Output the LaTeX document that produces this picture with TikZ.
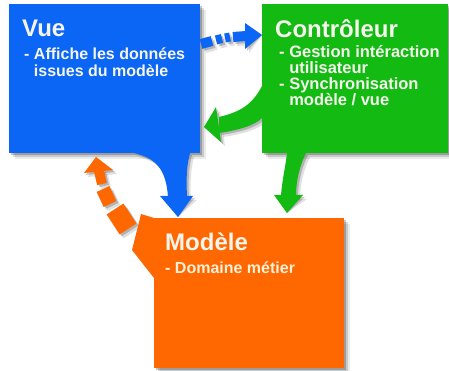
\documentclass[tikz,border=0pt]{standalone}
\usepackage{fontspec}
\setmainfont{Liberation Sans}
\usetikzlibrary{shadows}
\definecolor{vueblue}{RGB}{12,102,245}
\definecolor{ctrlgreen}{RGB}{18,186,18}
\definecolor{modorange}{RGB}{255,104,0}
\definecolor{txtw}{RGB}{245,245,238}
\definecolor{txtc}{RGB}{255,240,215}
\tikzset{
  softshadow/.style={
    drop shadow={shadow xshift=2pt,shadow yshift=-2pt,opacity=.22,fill=black},
    drop shadow={shadow xshift=4pt,shadow yshift=-4pt,opacity=.14,fill=black},
    drop shadow={shadow xshift=6pt,shadow yshift=-6pt,opacity=.08,fill=black}},
  panel/.style={rectangle, inner sep=0pt, draw=none, anchor=north west, softshadow},
  ttl/.style={inner sep=0pt, anchor=base west, font=\bfseries\fontsize{24}{24}\selectfont, text=txtw},
  bdy/.style={inner sep=0pt, anchor=base west, text height=11.5pt, text depth=3.2pt,
    font=\bfseries\fontsize{16}{16}\selectfont, text=txtw},
  bdyc/.style={bdy, font=\bfseries\fontsize{16.5}{16.5}\selectfont},
}
\newcommand\mvcarrows[3]{%
  % vue -> controleur (dashed)
  \draw[#1, line width=10pt] (201,44) -- (212,41);
  \draw[#1, line width=9pt] (216,40) -- (222,38.5);
  \draw[#1, line width=9pt] (225,38) -- (230,37);
  \draw[#1, line width=10pt] (233,37) -- (246,36);
  \fill[#1] (245,23) -- (vctip) -- (245,49) -- cycle;
  % controleur -> vue
  \fill[#2] (262,86) .. controls (252,105) and (240,112) .. (219,117) -- (219,133) .. controls (240,130) and (255,125) .. (262,118) -- cycle;
  \fill[#2] (216,107) -- (cvtip) -- (221,142) -- cycle;
  % vue -> modele
  \fill[#1] (134,153) .. controls (155,158) and (166,168) .. (168,197) -- (187,197) .. controls (186,175) and (187,165) .. (190,153) -- cycle;
  \fill[#1] (160,196) -- (193,196) -- (vmtip) -- cycle;
  % controleur -> modele
  \fill[#2] (287,153) .. controls (285,170) and (282,180) .. (281,196) -- (296,196) .. controls (296,180) and (300,165) .. (306,153) -- cycle;
  \fill[#2] (274,195) -- (303,195) -- (cmtip) -- cycle;
  % modele -> vue (dashed)
  \draw[#3, line width=10pt] (99,171) -- (102,184);
  \draw[#3, line width=14pt] (103,189) -- (110,204);
  \draw[#3, line width=20pt] (115,209) -- (128,229);
  \fill[#3] (84,173) -- (mvtip) -- (113,170) -- cycle;
}
\begin{document}
\begin{tikzpicture}[x=1pt,y=-1pt]
  \fill[white] (0,0) rectangle (449,371);
  \useasboundingbox (0,0) rectangle (449,371);
  \coordinate (vctip) at (262,35);
  \coordinate (cvtip) at (204,127);
  \coordinate (vmtip) at (178,217);
  \coordinate (cmtip) at (287,213);
  \coordinate (mvtip) at (96,157);
  % shadows of arrows
  \begin{scope}[shift={(2,2)}]
    \mvcarrows{black,opacity=.2}{black,opacity=.2}{black,opacity=.2}
  \end{scope}
  \begin{scope}[shift={(4,4)}]
    \mvcarrows{black,opacity=.12}{black,opacity=.12}{black,opacity=.12}
  \end{scope}
  % panels
  \node[panel, fill=vueblue, minimum width=191pt, minimum height=149pt] (vue) at (9,4) {};
  \node[panel, fill=ctrlgreen, minimum width=186pt, minimum height=149pt] (ctrl) at (262,4) {};
  \fill[modorange, softshadow] (141,214) -- (154,218) -- (170,218) -- (170,280) -- (154,278) -- (132,250) -- cycle;
  \node[panel, fill=modorange, minimum width=190pt, minimum height=150pt] (mod) at (154,218) {};
  % arrows
  \mvcarrows{vueblue}{ctrlgreen}{modorange}
  % texts
  \node[ttl] (vuet) at (22,37) {Vue};
  \node[bdy] (vue1) at (24,60) {- Affiche les données};
  \node[bdy] (vue2) at (24,77) {\phantom{- }issues du modèle};
  \node[ttl] (ctrlt) at (275,38) {Contrôleur};
  \node[bdyc] (ctrl1) at (279,58) {- Gestion intéraction};
  \node[bdyc] (ctrl2) at (279,73.5) {\phantom{- }utilisateur};
  \node[bdyc] (ctrl3) at (279,90) {- Synchronisation};
  \node[bdyc] (ctrl4) at (279,105.5) {\phantom{- }modèle / vue};
  \node[ttl] (modt) at (165,250) {Modèle};
  \node[bdy, text=txtc] (mod1) at (165,273) {- Domaine métier};
\end{tikzpicture}
\end{document}
